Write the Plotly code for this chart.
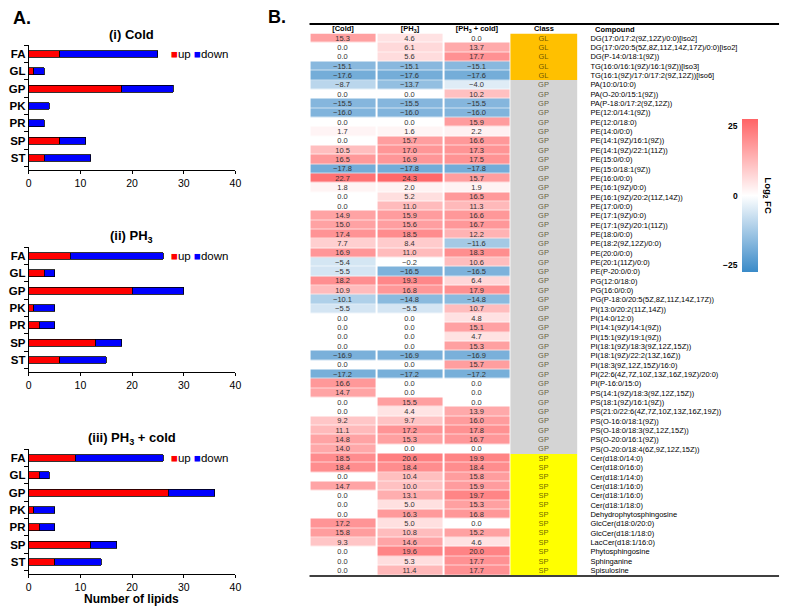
import plotly.graph_objects as go

W, H = 789, 608
OFF = 8  # the page body adds an 8px margin around the plot
FW, FH = W - OFF, H - OFF
FONT = "Liberation Sans, Arial, sans-serif"

# ---------- A. number of lipids per class ----------
lipid_classes = ["FA", "GL", "GP", "PK", "PR", "SP", "ST"]
cold_up = [6, 1, 18, 0, 0, 6, 3]
cold_down = [19, 2, 10, 4, 3, 5, 9]
ph3_up = [8, 3, 20, 1, 2, 13, 6]
ph3_down = [18, 2, 10, 4, 3, 5, 9]
ph3cold_up = [9, 2, 27, 1, 2, 12, 5]
ph3cold_down = [17, 2, 9, 4, 3, 5, 9]
panel_titles = ["(i) Cold", "(ii) PH<sub>3</sub>", "(iii) PH<sub>3</sub> + cold"]
series_names = ["up", "down"]
series_colors = ["#FF0000", "#0000FF"]

# ---------- B. log2 fold change table ----------
col_headers = ["[Cold]", "[PH<sub>3</sub>]", "[PH<sub>3</sub> + cold]", "Class"]
compounds = [
    "DG(17:0/17:2(9Z,12Z)/0:0)[iso2]",
    "DG(17:0/20:5(5Z,8Z,11Z,14Z,17Z)/0:0)[iso2]",
    "DG(P-14:0/18:1(9Z))",
    "TG(16:0/16:1(9Z)/16:1(9Z))[iso3]",
    "TG(16:1(9Z)/17:0/17:2(9Z,12Z))[iso6]",
    "PA(10:0/10:0)",
    "PA(O-20:0/15:1(9Z))",
    "PA(P-18:0/17:2(9Z,12Z))",
    "PE(12:0/14:1(9Z))",
    "PE(12:0/18:0)",
    "PE(14:0/0:0)",
    "PE(14:1(9Z)/16:1(9Z))",
    "PE(14:1(9Z)/22:1(11Z))",
    "PE(15:0/0:0)",
    "PE(15:0/18:1(9Z))",
    "PE(16:0/0:0)",
    "PE(16:1(9Z)/0:0)",
    "PE(16:1(9Z)/20:2(11Z,14Z))",
    "PE(17:0/0:0)",
    "PE(17:1(9Z)/0:0)",
    "PE(17:1(9Z)/20:1(11Z))",
    "PE(18:0/0:0)",
    "PE(18:2(9Z,12Z)/0:0)",
    "PE(20:0/0:0)",
    "PE(20:1(11Z)/0:0)",
    "PE(P-20:0/0:0)",
    "PG(12:0/18:0)",
    "PG(16:0/0:0)",
    "PG(P-18:0/20:5(5Z,8Z,11Z,14Z,17Z))",
    "PI(13:0/20:2(11Z,14Z))",
    "PI(14:0/12:0)",
    "PI(14:1(9Z)/14:1(9Z))",
    "PI(15:1(9Z)/19:1(9Z))",
    "PI(18:1(9Z)/18:3(9Z,12Z,15Z))",
    "PI(18:1(9Z)/22:2(13Z,16Z))",
    "PI(18:3(9Z,12Z,15Z)/16:0)",
    "PI(22:6(4Z,7Z,10Z,13Z,16Z,19Z)/20:0)",
    "PI(P-16:0/15:0)",
    "PS(14:1(9Z)/18:3(9Z,12Z,15Z))",
    "PS(18:1(9Z)/16:1(9Z))",
    "PS(21:0/22:6(4Z,7Z,10Z,13Z,16Z,19Z))",
    "PS(O-16:0/18:1(9Z))",
    "PS(O-18:0/18:3(9Z,12Z,15Z))",
    "PS(O-20:0/16:1(9Z))",
    "PS(O-20:0/18:4(6Z,9Z,12Z,15Z))",
    "Cer(d18:0/14:0)",
    "Cer(d18:0/16:0)",
    "Cer(d18:1/14:0)",
    "Cer(d18:1/16:0)",
    "Cer(d18:1/16:0)",
    "Cer(d18:1/18:0)",
    "Dehydrophytosphingosine",
    "GlcCer(d18:0/20:0)",
    "GlcCer(d18:1/18:0)",
    "LacCer(d18:1/16:0)",
    "Phytosphingosine",
    "Sphinganine",
    "Spisulosine",
]
lipid_class = ["GL"] * 5 + ["GP"] * 40 + ["SP"] * 13
fc_cold = [15.3, 0.0, 0.0, -15.1, -17.6, -8.7, 0.0, -15.5, -16.0, 0.0,
           1.7, 0.0, 10.5, 16.5, -17.8, 22.7, 1.8, 0.0, 0.0, 14.9,
           15.0, 17.4, 7.7, 16.9, -5.4, -5.5, 18.2, 10.9, -10.1, -5.5,
           0.0, 0.0, 0.0, 0.0, -16.9, 0.0, -17.2, 16.6, 14.7, 0.0,
           0.0, 9.2, 11.1, 14.8, 14.0, 18.5, 18.4, 0.0, 14.7, 0.0,
           0.0, 0.0, 17.2, 15.8, 9.3, 0.0, 0.0, 0.0]
fc_ph3 = [4.6, 6.1, 5.6, -15.1, -17.6, -13.7, 0.0, -15.5, -16.0, 0.0,
          1.6, 15.7, 17.0, 16.9, -17.8, 24.3, 2.0, 5.2, 11.0, 15.9,
          15.6, 18.5, 8.4, 11.0, -0.2, -16.5, 19.3, 16.8, -14.8, -5.5,
          0.0, 0.0, 0.0, 0.0, -16.9, 0.0, -17.2, 0.0, 0.0, 15.5,
          4.4, 9.7, 17.2, 15.3, 0.0, 20.6, 18.4, 10.4, 10.0, 13.1,
          5.0, 16.3, 5.0, 10.8, 14.6, 19.6, 5.3, 11.4]
fc_ph3_cold = [0.0, 13.7, 17.7, -15.1, -17.6, -4.0, 10.2, -15.5, -16.0, 15.9,
               2.2, 16.6, 17.3, 17.5, -17.8, 15.7, 1.9, 16.5, 11.3, 16.6,
               16.7, 12.2, -11.6, 18.3, 10.6, -16.5, 6.4, 17.9, -14.8, 10.7,
               4.8, 15.1, 4.7, 15.3, -16.9, 15.7, -17.2, 0.0, 0.0, 0.0,
               13.9, 16.0, 17.8, 16.7, 0.0, 19.9, 18.4, 15.8, 15.9, 19.7,
               15.3, 16.8, 0.0, 15.2, 4.6, 20.0, 17.7, 17.7]

class_colors = {"GL": "#FFC000", "GP": "#D4D4D4", "SP": "#FFFF00"}


def px_x(v):
    return (v - OFF) / FW


def px_y(v):
    return 1 - (v - OFF) / FH


fig = go.Figure()

# ---------- bar panels ----------
bar_sets = [(cold_up, cold_down), (ph3_up, ph3_down), (ph3cold_up, ph3cold_down)]
fa_y = [54, 256, 458]          # centre of the FA bar in each panel
row_px = 17.33
legend_txt = " ".join(
    f"<span style='color:{c}'>\u25a0</span>{s}" for s, c in zip(series_names, series_colors)
)
for i, pair in enumerate(bar_sets):
    n = "" if i == 0 else str(i + 1)
    for name, vals, col in zip(series_names, pair, series_colors):
        fig.add_trace(go.Bar(
            x=vals, y=lipid_classes, orientation="h", name=name,
            marker=dict(color=col, line=dict(color="black", width=0.8)),
            width=0.4, xaxis="x" + n, yaxis="y" + n, showlegend=False,
        ))
    top = fa_y[i] - row_px / 2
    bot = fa_y[i] + 6.7 * row_px
    fig.layout["xaxis" + n] = dict(
        domain=[px_x(26), px_x(235)], anchor="y" + n, range=[0, 40], dtick=10,
        showline=True, linecolor="black", linewidth=1, ticks="outside",
        ticklen=3, tickcolor="black", showgrid=False, zeroline=False,
        tickfont=dict(size=10.5),
    )
    fig.layout["yaxis" + n] = dict(
        domain=[px_y(bot), px_y(top)], anchor="x" + n,
        type="category", categoryorder="array", categoryarray=lipid_classes,
        tickvals=lipid_classes, ticktext=["<b>" + c + "</b>" for c in lipid_classes],
        range=[6.7, -0.5], showline=True, linecolor="black", linewidth=1,
        ticks="outside", tickson="boundaries", ticklen=4, tickcolor="black",
        showgrid=False, tickfont=dict(size=11.5),
    )
    fig.add_annotation(
        text=legend_txt, xref="paper", yref="paper", x=px_x(168), y=px_y(fa_y[i]),
        xanchor="left", yanchor="middle", showarrow=False, font=dict(size=11.5),
    )
    fig.add_annotation(
        text="<b>" + panel_titles[i] + "</b>", xref="paper", yref="paper",
        x=px_x(130), y=px_y(fa_y[i] - 20), showarrow=False,
        font=dict(size=13), xanchor="center", yanchor="middle",
    )

fig.update_layout(barmode="stack")

# ---------- heatmap ----------
cond_x = [0, 1, 2]
rows = list(range(len(compounds)))
z = [[c, p, pc] for c, p, pc in zip(fc_cold, fc_ph3, fc_ph3_cold)]
txt = [[f"{v:.1f}".replace("-", "\u2212") for v in r] for r in z]

cb_top, cb_len = 119, 153
fig.add_trace(go.Heatmap(
    z=z, x=cond_x, y=rows, text=txt, texttemplate="%{text}",
    textfont=dict(size=7.5, color="#333333", family=FONT),
    zmin=-25, zmax=25,
    colorscale=[[0, "rgb(58,138,200)"], [0.5, "rgb(255,255,255)"], [1, "rgb(255,100,102)"]],
    xgap=2, ygap=0.6, xaxis="x4", yaxis="y4",
    colorbar=dict(
        x=px_x(748), xanchor="left", y=px_y(cb_top + cb_len / 2), yanchor="middle",
        len=cb_len / FH, thickness=16, outlinewidth=0, showticklabels=False,
        ticks="", xpad=0, ypad=0,
    ),
))

class_codes = list(class_colors.keys())
fig.add_trace(go.Heatmap(
    z=[[class_codes.index(c)] for c in lipid_class], x=[3], y=rows,
    text=[[c] for c in lipid_class], texttemplate="%{text}",
    textfont=dict(size=7.5, color="rgba(60,50,0,0.75)", family=FONT),
    zmin=0, zmax=2, showscale=False,
    colorscale=[[0, class_colors["GL"]], [0.5, class_colors["GP"]], [1, class_colors["SP"]]],
    xaxis="x4", yaxis="y4",
))

fig.layout.xaxis4 = dict(
    domain=[px_x(310), px_x(581)], anchor="y4", side="top",
    range=[-0.5, 3.5], tickvals=[0, 1, 2, 3],
    ticktext=["<b>" + h + "</b>" for h in col_headers],
    ticks="", tickfont=dict(size=7.5), showgrid=False, zeroline=False,
    ticklabelstandoff=0,
)
fig.layout.yaxis4 = dict(
    domain=[px_y(575), px_y(33.5)], anchor="x4", side="right",
    range=[len(compounds) - 0.5, -0.5], tickvals=rows, ticktext=compounds,
    ticks="", tickfont=dict(size=7.5), showgrid=False, zeroline=False,
    ticklabelstandoff=12,
)

# rules of the table
for yy, lw in [(24, 2), (576, 1.5)]:
    fig.add_shape(type="line", xref="paper", yref="paper",
                  x0=px_x(310), x1=px_x(785), y0=px_y(yy), y1=px_y(yy),
                  line=dict(color="black", width=lw))

fig.add_annotation(text="<b>Compound</b>", xref="paper", yref="paper",
                   x=px_x(597), y=px_y(29), xanchor="left", yanchor="middle",
                   showarrow=False, font=dict(size=7.5))

# colour bar labels
for v, anc in [(25, "top"), (0, "middle"), (-25, "bottom")]:
    fig.add_annotation(
        text="<b>" + str(v).replace("-", "\u2212") + "</b>", xref="paper", yref="paper",
        x=px_x(746), y=px_y(cb_top + (25 - v) / 50 * cb_len), xanchor="right",
        yanchor=anc, showarrow=False, font=dict(size=8.5),
    )
fig.add_annotation(text="<b>Log<sub>2</sub> FC</b>", xref="paper", yref="paper",
                   x=px_x(774), y=px_y(cb_top + cb_len / 2), textangle=90, showarrow=False,
                   font=dict(size=9.5), xanchor="center", yanchor="middle")

# panel letters and x title
fig.add_annotation(text="<b>A.</b>", xref="paper", yref="paper", x=px_x(8), y=px_y(18),
                   xanchor="left", yanchor="middle", showarrow=False, font=dict(size=18))
fig.add_annotation(text="<b>B.</b>", xref="paper", yref="paper", x=px_x(266), y=px_y(17),
                   xanchor="left", yanchor="middle", showarrow=False, font=dict(size=18))
fig.add_annotation(text="<b>Number of lipids</b>", xref="paper", yref="paper",
                   x=px_x(130), y=px_y(599), xanchor="center", yanchor="middle",
                   showarrow=False, font=dict(size=12))

fig.update_layout(
    width=FW, height=FH, margin=dict(l=0, r=0, t=0, b=0),
    paper_bgcolor="white", plot_bgcolor="white",
    font=dict(family=FONT, color="black"),
)

fig.write_html("out.html")
